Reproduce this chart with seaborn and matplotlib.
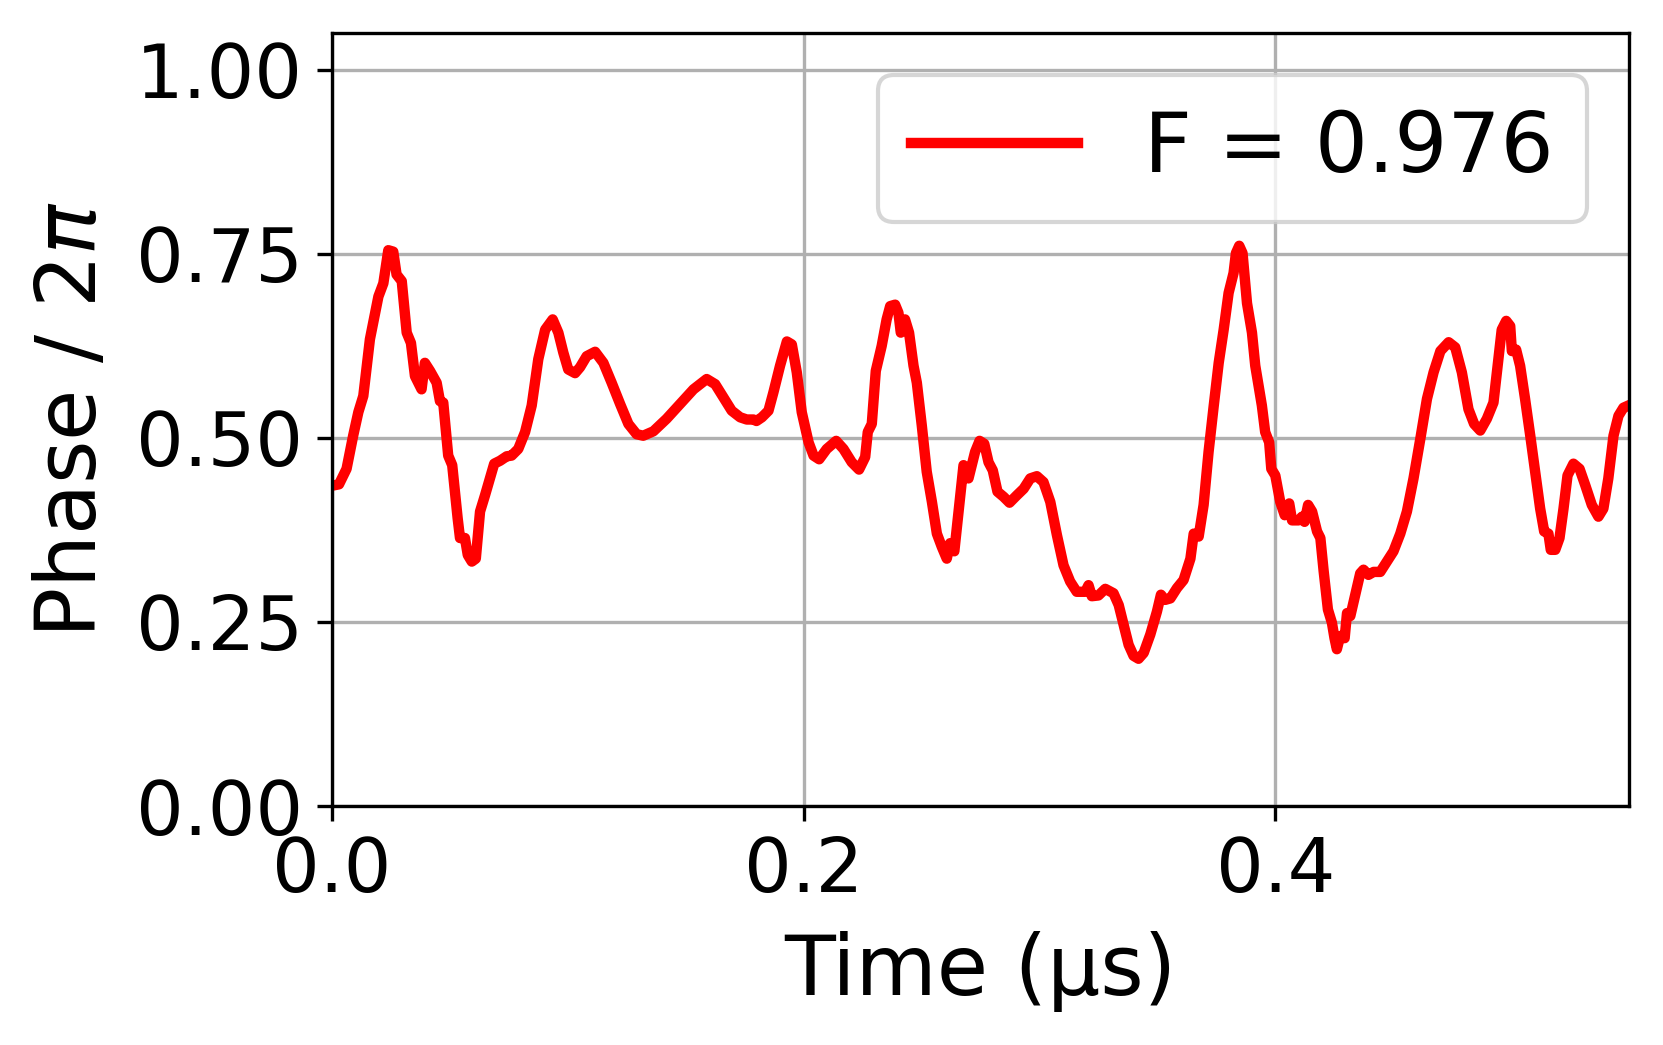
import numpy as np
import pandas as pd
import matplotlib
matplotlib.use("Agg")
import matplotlib.pyplot as plt
from matplotlib.ticker import FormatStrFormatter
import seaborn as sns

time_us = [
    0.0000, 0.0030, 0.0062, 0.0090, 0.0112, 0.0133, 0.0161, 0.0197, 0.0218, 0.0239,
    0.0260, 0.0274, 0.0296, 0.0317, 0.0335, 0.0352, 0.0380, 0.0394, 0.0416, 0.0444,
    0.0458, 0.0472, 0.0493, 0.0510, 0.0533, 0.0543, 0.0564, 0.0576, 0.0593, 0.0610,
    0.0628, 0.0649, 0.0670, 0.0688, 0.0713, 0.0741, 0.0762, 0.0790, 0.0819, 0.0847,
    0.0875, 0.0904, 0.0936, 0.0960, 0.0981, 0.1002, 0.1031, 0.1052, 0.1080, 0.1116,
    0.1151, 0.1186, 0.1222, 0.1257, 0.1292, 0.1320, 0.1363, 0.1419, 0.1476, 0.1533,
    0.1589, 0.1625, 0.1660, 0.1695, 0.1731, 0.1759, 0.1787, 0.1800, 0.1823, 0.1851,
    0.1872, 0.1900, 0.1929, 0.1950, 0.1971, 0.1992, 0.2021, 0.2042, 0.2066, 0.2098,
    0.2138, 0.2169, 0.2204, 0.2235, 0.2261, 0.2272, 0.2289, 0.2306, 0.2331, 0.2352,
    0.2367, 0.2388, 0.2402, 0.2412, 0.2430, 0.2447, 0.2466, 0.2480, 0.2501, 0.2522,
    0.2544, 0.2565, 0.2586, 0.2607, 0.2621, 0.2639, 0.2657, 0.2678, 0.2699, 0.2727,
    0.2746, 0.2766, 0.2784, 0.2802, 0.2822, 0.2848, 0.2873, 0.2904, 0.2933, 0.2961,
    0.2989, 0.3017, 0.3046, 0.3074, 0.3102, 0.3130, 0.3158, 0.3194, 0.3208, 0.3222,
    0.3250, 0.3279, 0.3314, 0.3336, 0.3357, 0.3378, 0.3399, 0.3420, 0.3442, 0.3470,
    0.3498, 0.3515, 0.3533, 0.3555, 0.3583, 0.3611, 0.3640, 0.3654, 0.3675, 0.3696,
    0.3717, 0.3739, 0.3760, 0.3781, 0.3802, 0.3823, 0.3833, 0.3847, 0.3861, 0.3880,
    0.3901, 0.3915, 0.3943, 0.3957, 0.3974, 0.3983, 0.4000, 0.4021, 0.4040, 0.4059,
    0.4071, 0.4099, 0.4113, 0.4124, 0.4139, 0.4156, 0.4177, 0.4191, 0.4205, 0.4223,
    0.4240, 0.4251, 0.4261, 0.4275, 0.4294, 0.4304, 0.4318, 0.4339, 0.4360, 0.4374,
    0.4395, 0.4417, 0.4445, 0.4473, 0.4501, 0.4530, 0.4558, 0.4586, 0.4615, 0.4643,
    0.4671, 0.4700, 0.4735, 0.4763, 0.4791, 0.4819, 0.4843, 0.4869, 0.4897, 0.4925,
    0.4946, 0.4960, 0.4979, 0.4996, 0.5003, 0.5021, 0.5038, 0.5059, 0.5081, 0.5102,
    0.5123, 0.5140, 0.5158, 0.5168, 0.5187, 0.5205, 0.5222, 0.5239, 0.5264, 0.5290,
    0.5314, 0.5342, 0.5370, 0.5391, 0.5412, 0.5434, 0.5455, 0.5476, 0.5497,
]

phase_2pi = [
    0.435, 0.437, 0.458, 0.503, 0.535, 0.557, 0.634, 0.692, 0.710, 0.755,
    0.753, 0.722, 0.713, 0.643, 0.629, 0.584, 0.566, 0.602, 0.591, 0.575,
    0.550, 0.548, 0.476, 0.463, 0.391, 0.364, 0.364, 0.341, 0.332, 0.336,
    0.400, 0.422, 0.445, 0.465, 0.469, 0.475, 0.476, 0.485, 0.508, 0.544,
    0.607, 0.647, 0.661, 0.643, 0.616, 0.593, 0.588, 0.596, 0.611, 0.617,
    0.602, 0.575, 0.546, 0.519, 0.505, 0.503, 0.509, 0.526, 0.546, 0.566,
    0.580, 0.573, 0.555, 0.537, 0.528, 0.525, 0.525, 0.523, 0.528, 0.537,
    0.562, 0.598, 0.631, 0.627, 0.589, 0.535, 0.494, 0.476, 0.471, 0.485,
    0.496, 0.485, 0.467, 0.457, 0.474, 0.508, 0.519, 0.591, 0.625, 0.661,
    0.679, 0.681, 0.670, 0.643, 0.661, 0.643, 0.598, 0.575, 0.517, 0.454,
    0.413, 0.370, 0.352, 0.336, 0.357, 0.346, 0.400, 0.463, 0.445, 0.481,
    0.496, 0.492, 0.467, 0.456, 0.427, 0.420, 0.412, 0.422, 0.431, 0.445,
    0.448, 0.440, 0.413, 0.368, 0.327, 0.305, 0.291, 0.291, 0.300, 0.285,
    0.286, 0.295, 0.289, 0.273, 0.246, 0.219, 0.204, 0.200, 0.208, 0.233,
    0.264, 0.287, 0.280, 0.282, 0.296, 0.307, 0.336, 0.370, 0.366, 0.409,
    0.481, 0.544, 0.602, 0.647, 0.697, 0.724, 0.751, 0.761, 0.751, 0.683,
    0.643, 0.598, 0.544, 0.508, 0.494, 0.458, 0.449, 0.413, 0.395, 0.411,
    0.388, 0.388, 0.393, 0.386, 0.409, 0.400, 0.373, 0.364, 0.319, 0.267,
    0.249, 0.228, 0.213, 0.231, 0.228, 0.262, 0.258, 0.287, 0.316, 0.321,
    0.314, 0.318, 0.318, 0.332, 0.346, 0.370, 0.400, 0.445, 0.499, 0.553,
    0.589, 0.618, 0.630, 0.623, 0.589, 0.539, 0.519, 0.510, 0.526, 0.548,
    0.607, 0.647, 0.659, 0.652, 0.618, 0.620, 0.598, 0.553, 0.503, 0.454,
    0.404, 0.373, 0.370, 0.348, 0.348, 0.364, 0.404, 0.449, 0.465, 0.458,
    0.436, 0.409, 0.393, 0.404, 0.445, 0.503, 0.530, 0.541, 0.544,
]

legend_label = "F = 0.976"
x_ticks = [0.0, 0.2, 0.4]
y_ticks = [0.0, 0.25, 0.5, 0.75, 1.0]

df = pd.DataFrame({"time": time_us, "phase": phase_2pi})

plt.rcParams["font.family"] = ["DejaVu Sans"]
fig = plt.figure(figsize=(1663 / 300, 1045 / 300), dpi=300)
ax = fig.add_axes([0.1996, 0.2287, 0.7800, 0.7397])

sns.lineplot(data=df, x="time", y="phase", color="red", linewidth=2.5,
             label=legend_label, sort=False, estimator=None, ax=ax)

ax.set_xlim(0, 0.55)
ax.set_ylim(0, 1.05)
ax.set_xticks(x_ticks)
ax.set_yticks(y_ticks)
ax.xaxis.set_major_formatter(FormatStrFormatter("%.1f"))
ax.yaxis.set_major_formatter(FormatStrFormatter("%.2f"))
ax.tick_params(labelsize=18)
ax.grid(True)
ax.set_axisbelow(True)
ax.set_xlabel("Time (μs)", fontsize=20, labelpad=5.5)
ax.set_ylabel(r"Phase / 2$\pi$", fontsize=20, labelpad=5.5)
ax.legend(loc="upper right", fontsize=20)

fig.savefig("out.png", dpi=300)
